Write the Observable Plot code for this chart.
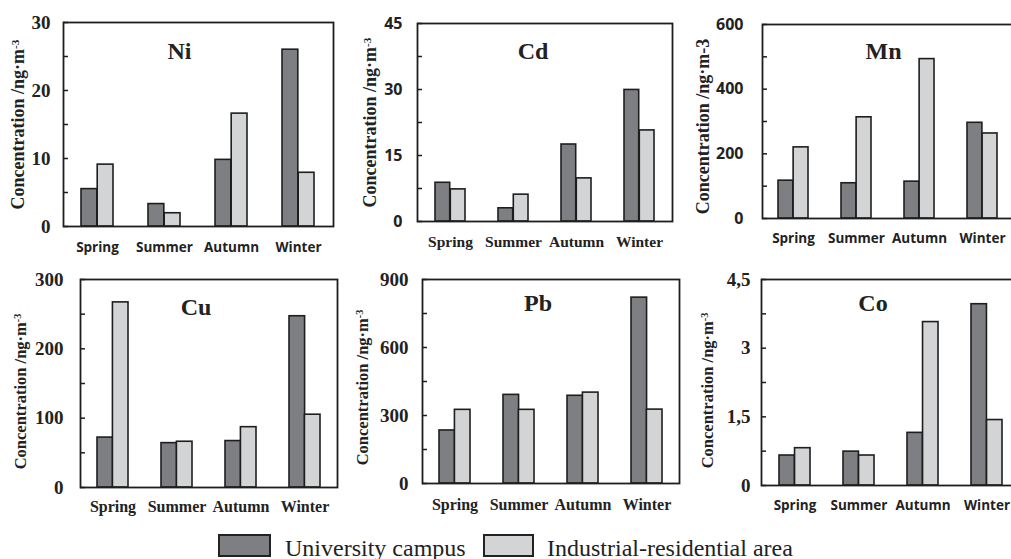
<!DOCTYPE html>
<html><head><meta charset="utf-8">
<script src="https://cdn.jsdelivr.net/npm/d3@7"></script>
<script src="https://cdn.jsdelivr.net/npm/@observablehq/plot@0.6"></script>
<style>
html,body{margin:0;padding:0;background:#fff;overflow:hidden;}
#wrap{position:relative;width:1011px;height:559px;overflow:hidden;background:#fff;color:#222;}
.panel{position:absolute;}
.panel svg{max-width:none !important;}
.legend-box{position:absolute;box-sizing:border-box;border:2px solid #222;}
.legend-text{position:absolute;font-family:"Liberation Serif",serif;font-size:24px;color:#222;line-height:24px;white-space:nowrap;}
</style></head><body><div id="wrap"></div>
<script>
// ---- data ----
const seasons = ["Spring", "Summer", "Autumn", "Winter"];
const seriesNames = ["University campus", "Industrial-residential area"];
const elements = ["Ni", "Cd", "Mn", "Cu", "Pb", "Co"];

const niCampus = [5.5, 3.3, 9.8, 26.0];
const niIndustrial = [9.1, 1.95, 16.6, 7.9];
const cdCampus = [8.8, 3.0, 17.5, 29.9];
const cdIndustrial = [7.3, 6.1, 9.8, 20.7];
const mnCampus = [117, 109, 114, 296];
const mnIndustrial = [220, 313, 493, 263];
const cuCampus = [72, 64, 67, 247];
const cuIndustrial = [267, 66, 87, 105];
const pbCampus = [234, 391, 387, 820];
const pbIndustrial = [325, 325, 401, 326];
const coCampus = [0.655, 0.74, 1.15, 3.96];
const coIndustrial = [0.815, 0.655, 3.57, 1.43];

const campusValues = [niCampus, cdCampus, mnCampus, cuCampus, pbCampus, coCampus];
const industrialValues = [niIndustrial, cdIndustrial, mnIndustrial, cuIndustrial, pbIndustrial, coIndustrial];

const yMax = [30, 45, 600, 300, 900, 4.5];
const yTickLabels = [
  [0, 10, 20, 30],
  [0, 15, 30, 45],
  [0, 200, 400, 600],
  [0, 100, 200, 300],
  [0, 300, 600, 900],
  [0, 1.5, 3, 4.5]
];
const yMinorStep = [5, 7.5, 100, 50, 150, 0.75];
const yTitles = [
  "Concentration /ng·m-3", "Concentration /ng·m-3", "Concentration /ng·m-3",
  "Concentration /ng·m-3", "Concentration /ng·m-3", "Concentration /ng·m-3"
];
const yTitleSuperscript = [true, true, false, true, true, true];

// ---- styles / layout ----
const DARK = "#7e7f83";
const LIGHT = "#d3d4d6";
const INK = "#1e1e1e";
const SERIF = "Liberation Serif, Times New Roman, serif";
const SANS = "Open Sans, sans-serif";

const layout = [
  {L: 63, T: 22, R: 333, B: 226, tickFont: SERIF, tickSize: 19, tickPad: 13, xFont: SANS, xSize: 13.5, xPad: 16, tdx: -19, tdy: 19, ytdx: -45, ytdy: 0, ytSize: 18},
  {L: 417, T: 23, R: 672, B: 221, tickFont: SANS, tickSize: 16, tickPad: 15, xFont: SERIF, xSize: 15.5, xPad: 14, tdx: -12, tdy: 18, ytdx: -47, ytdy: 0, ytSize: 18},
  {L: 762, T: 24, R: 1014, B: 218, tickFont: SANS, tickSize: 16, tickPad: 19, xFont: SANS, xSize: 13.5, xPad: 15, tdx: -5, tdy: 17, ytdx: -59, ytdy: 5, ytSize: 18},
  {L: 80, T: 279, R: 337, B: 487, tickFont: SERIF, tickSize: 19, tickPad: 17, xFont: SERIF, xSize: 16, xPad: 13, tdx: -13, tdy: 18, ytdx: -60, ytdy: 8, ytSize: 16.5},
  {L: 422, T: 279, R: 679, B: 483, tickFont: SERIF, tickSize: 19, tickPad: 14, xFont: SERIF, xSize: 16, xPad: 15, tdx: -13, tdy: 14, ytdx: -60, ytdy: 6, ytSize: 16.5},
  {L: 761, T: 279, R: 1020, B: 485, tickFont: SERIF, tickSize: 19, tickPad: 11, xFont: SANS, xSize: 13.5, xPad: 15, tdx: -18, tdy: 14, ytdx: -54, ytdy: 8, ytSize: 16.5}
];

const ML = 75, MR = 10, MT = 8, MB = 40;
const PAD_INNER = 0.52, PAD_OUTER = 0.26;
const wrap = document.getElementById("wrap");

elements.forEach((name, i) => {
  const g = layout[i];
  const rows = seasons.map((s, k) => ({season: s, campus: campusValues[i][k], industrial: industrialValues[i][k]}));
  const step = (g.R - g.L) / (seasons.length - PAD_INNER + 2 * PAD_OUTER);
  const bw = step * (1 - PAD_INNER);
  const minor = d3.range(0, yMax[i] + 1e-9, yMinorStep[i]);
  const fmt = name === "Co" ? (d => String(d).replace(".", ",")) : (d => String(d));
  const W = (g.R - g.L) + ML + MR, H = (g.B - g.T) + MT + MB;

  const plot = Plot.plot({
    width: W,
    height: H,
    marginLeft: ML, marginRight: MR, marginTop: MT, marginBottom: MB,
    style: {background: "transparent", overflow: "visible", color: "#222", maxWidth: "none"},
    x: {domain: seasons, paddingInner: PAD_INNER, paddingOuter: PAD_OUTER, label: null},
    y: {domain: [0, yMax[i]], label: null},
    marks: [
      Plot.barY(rows, {x: "season", y: "campus", fill: DARK, stroke: INK, strokeWidth: 1.6, insetRight: bw / 2}),
      Plot.barY(rows, {x: "season", y: "industrial", fill: LIGHT, stroke: INK, strokeWidth: 1.6, insetLeft: bw / 2}),
      Plot.frame({stroke: INK, strokeWidth: 1.8}),
      Plot.axisY({ticks: minor, tickSize: -5, stroke: INK, strokeWidth: 1.5, fill: "none", label: null}),
      Plot.axisY({ticks: yTickLabels[i], tickSize: 0, tickPadding: g.tickPad, tickFormat: fmt, label: null,
        fontSize: g.tickSize, fontFamily: g.tickFont, fontWeight: "bold", fill: "#222"}),
      Plot.axisX({tickSize: 0, tickPadding: g.xPad, label: null, fontSize: g.xSize, fontFamily: g.xFont, fontWeight: "bold", fill: "#222"}),
      Plot.text([name], {frameAnchor: "top", dx: g.tdx, dy: g.tdy, fontSize: 24, fontFamily: SERIF, fontWeight: "bold", fill: "#222", lineAnchor: "top"}),
      Plot.text([yTitles[i]], {frameAnchor: "left", rotate: -90, textAnchor: "middle", dx: g.ytdx, dy: g.ytdy, fontSize: g.ytSize, fontFamily: SERIF, fontWeight: "bold", fill: "#222"})
    ]
  });
  plot.style.maxWidth = "none";

  if (yTitleSuperscript[i]) {
    d3.select(plot).selectAll("text").filter(function() { return this.textContent === yTitles[i]; })
      .each(function() {
        const t = d3.select(this);
        t.text(null);
        t.append("tspan").text("Concentration /ng·m");
        t.append("tspan").attr("dy", "-0.5em").attr("font-size", "0.62em").text("-3");
      });
  }

  const holder = document.createElement("div");
  holder.className = "panel";
  holder.style.left = (g.L - ML) + "px";
  holder.style.top = (g.T - MT) + "px";
  holder.style.width = W + "px";
  holder.style.height = H + "px";
  holder.appendChild(plot);
  wrap.appendChild(holder);
});

// ---- legend (HTML) ----
const legendItems = [
  {box: {left: 218, width: 53}, text: 285, color: DARK},
  {box: {left: 483, width: 51}, text: 547, color: LIGHT}
];
legendItems.forEach((it, k) => {
  const b = document.createElement("div");
  b.className = "legend-box";
  b.style.left = it.box.left + "px";
  b.style.top = "534px";
  b.style.width = it.box.width + "px";
  b.style.height = "23px";
  b.style.background = it.color;
  wrap.appendChild(b);
  const t = document.createElement("div");
  t.className = "legend-text";
  t.style.left = it.text + "px";
  t.style.top = "536px";
  t.textContent = seriesNames[k];
  wrap.appendChild(t);
});
</script></body></html>
